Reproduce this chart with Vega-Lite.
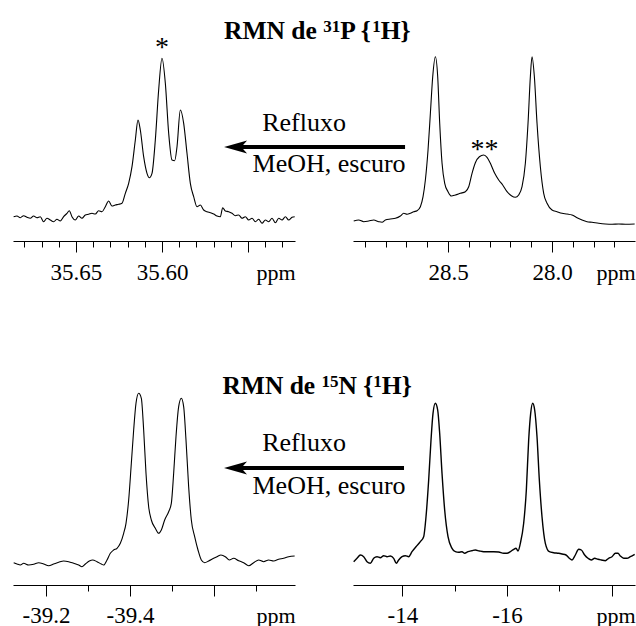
{
 "$schema": "https://vega.github.io/schema/vega-lite/v6.json",
 "background": "white",
 "padding": {"left": 11, "top": 0, "right": 0, "bottom": 0},
 "datasets": {
  "tl": [
   {"x":35.68624,"v":24.3},{"x":35.68430,"v":25.0},{"x":35.68236,"v":23.3},{"x":35.68043,"v":25.3},{"x":35.67849,"v":23.7},{"x":35.67655,"v":22.7},{"x":35.67461,"v":25.0},{"x":35.67267,"v":23.3},{"x":35.67074,"v":24.3},{"x":35.66880,"v":19.3},{"x":35.66686,"v":22.7},{"x":35.66492,"v":21.0},{"x":35.66298,"v":19.3},{"x":35.66105,"v":21.7},{"x":35.65911,"v":20.0},{"x":35.65717,"v":24.3},{"x":35.65523,"v":27.7},{"x":35.65388,"v":30.3},{"x":35.65233,"v":24.3},{"x":35.65039,"v":21.0},{"x":35.64845,"v":25.0},{"x":35.64651,"v":22.7},{"x":35.64457,"v":26.0},{"x":35.64264,"v":26.7},{"x":35.64070,"v":27.7},{"x":35.63876,"v":27.0},{"x":35.63682,"v":30.3},{"x":35.63488,"v":29.3},{"x":35.63295,"v":34.3},{"x":35.63101,"v":40.0},{"x":35.62907,"v":35.0},{"x":35.62713,"v":36.0},{"x":35.62519,"v":36.7},{"x":35.62326,"v":37.7},{"x":35.62132,"v":47.7},{"x":35.61938,"v":57.7},{"x":35.61744,"v":74.3},{"x":35.61550,"v":101.0},{"x":35.61395,"v":121.0},{"x":35.61260,"v":111.0},{"x":35.61066,"v":84.3},{"x":35.60872,"v":67.7},{"x":35.60736,"v":63.3},{"x":35.60581,"v":67.7},{"x":35.60388,"v":101.0},{"x":35.60194,"v":151.0},{"x":35.60000,"v":182.7},{"x":35.59806,"v":157.7},{"x":35.59612,"v":107.7},{"x":35.59419,"v":81.0},{"x":35.59264,"v":80.3},{"x":35.59128,"v":94.3},{"x":35.58934,"v":131.0},{"x":35.58740,"v":117.7},{"x":35.58547,"v":87.7},{"x":35.58353,"v":57.7},{"x":35.58159,"v":44.3},{"x":35.57965,"v":34.3},{"x":35.57771,"v":36.0},{"x":35.57578,"v":31.0},{"x":35.57384,"v":29.3},{"x":35.57190,"v":28.3},{"x":35.56996,"v":27.0},{"x":35.56802,"v":25.0},{"x":35.56609,"v":24.3},{"x":35.56473,"v":33.3},{"x":35.56318,"v":30.0},{"x":35.56124,"v":29.3},{"x":35.55930,"v":27.7},{"x":35.55736,"v":25.3},{"x":35.55543,"v":26.0},{"x":35.55349,"v":22.7},{"x":35.55155,"v":24.3},{"x":35.54961,"v":21.0},{"x":35.54767,"v":22.7},{"x":35.54574,"v":19.3},{"x":35.54380,"v":21.7},{"x":35.54186,"v":17.7},{"x":35.53992,"v":21.0},{"x":35.53798,"v":19.3},{"x":35.53605,"v":22.7},{"x":35.53411,"v":18.3},{"x":35.53217,"v":22.7},{"x":35.53023,"v":21.0},{"x":35.52829,"v":24.3},{"x":35.52636,"v":21.0},{"x":35.52442,"v":23.7},{"x":35.52287,"v":24.3}
  ],
  "tr": [
   {"x":28.9535,"v":20.0},{"x":28.9295,"v":21.0},{"x":28.9054,"v":19.3},{"x":28.8814,"v":20.0},{"x":28.8574,"v":21.0},{"x":28.8333,"v":19.3},{"x":28.8173,"v":18.7},{"x":28.8013,"v":21.0},{"x":28.7772,"v":22.0},{"x":28.7532,"v":22.7},{"x":28.7292,"v":25.0},{"x":28.7131,"v":27.7},{"x":28.6971,"v":26.7},{"x":28.6811,"v":27.7},{"x":28.6651,"v":29.3},{"x":28.6490,"v":30.3},{"x":28.6330,"v":34.3},{"x":28.6202,"v":44.3},{"x":28.6090,"v":61.0},{"x":28.5962,"v":91.0},{"x":28.5849,"v":127.7},{"x":28.5737,"v":164.3},{"x":28.5609,"v":184.3},{"x":28.5497,"v":164.3},{"x":28.5401,"v":117.7},{"x":28.5288,"v":77.7},{"x":28.5160,"v":57.7},{"x":28.5000,"v":49.3},{"x":28.4840,"v":45.0},{"x":28.4647,"v":46.0},{"x":28.4407,"v":47.7},{"x":28.4167,"v":49.3},{"x":28.4006,"v":54.3},{"x":28.3846,"v":67.7},{"x":28.3686,"v":78.3},{"x":28.3494,"v":84.3},{"x":28.3285,"v":86.0},{"x":28.3125,"v":83.7},{"x":28.2965,"v":77.7},{"x":28.2756,"v":67.7},{"x":28.2564,"v":61.0},{"x":28.2372,"v":56.0},{"x":28.2163,"v":49.3},{"x":28.1955,"v":45.3},{"x":28.1763,"v":43.7},{"x":28.1603,"v":46.0},{"x":28.1442,"v":54.3},{"x":28.1282,"v":77.7},{"x":28.1154,"v":117.7},{"x":28.1042,"v":164.3},{"x":28.0962,"v":184.3},{"x":28.0849,"v":164.3},{"x":28.0721,"v":117.7},{"x":28.0561,"v":74.3},{"x":28.0401,"v":47.7},{"x":28.0240,"v":37.7},{"x":28.0000,"v":31.0},{"x":27.9760,"v":29.3},{"x":27.9519,"v":27.7},{"x":27.9279,"v":27.0},{"x":27.9038,"v":26.0},{"x":27.8798,"v":23.3},{"x":27.8558,"v":21.0},{"x":27.8317,"v":19.3},{"x":27.8077,"v":18.7},{"x":27.7756,"v":17.7},{"x":27.7436,"v":17.0},{"x":27.7115,"v":16.7},{"x":27.6795,"v":17.0},{"x":27.6474,"v":16.7},{"x":27.6026,"v":17.0}
  ],
  "bl": [
   {"x":-39.12302,"v":22.3},{"x":-39.13095,"v":21.0},{"x":-39.13889,"v":20.0},{"x":-39.14683,"v":21.7},{"x":-39.15873,"v":20.0},{"x":-39.17064,"v":20.7},{"x":-39.18254,"v":22.3},{"x":-39.19444,"v":21.0},{"x":-39.20635,"v":19.3},{"x":-39.21825,"v":21.0},{"x":-39.23016,"v":22.7},{"x":-39.24206,"v":24.0},{"x":-39.25397,"v":23.3},{"x":-39.26587,"v":21.7},{"x":-39.27778,"v":20.0},{"x":-39.28571,"v":18.3},{"x":-39.29365,"v":21.0},{"x":-39.30317,"v":24.0},{"x":-39.31111,"v":25.0},{"x":-39.32143,"v":23.3},{"x":-39.33175,"v":21.0},{"x":-39.33730,"v":20.0},{"x":-39.34524,"v":25.0},{"x":-39.35317,"v":31.7},{"x":-39.36111,"v":35.0},{"x":-39.36905,"v":36.7},{"x":-39.37698,"v":41.7},{"x":-39.38492,"v":51.7},{"x":-39.39048,"v":61.7},{"x":-39.39683,"v":85.0},{"x":-39.40317,"v":121.7},{"x":-39.40873,"v":155.0},{"x":-39.41429,"v":181.7},{"x":-39.42063,"v":191.7},{"x":-39.42698,"v":186.7},{"x":-39.43254,"v":155.0},{"x":-39.43810,"v":111.7},{"x":-39.44444,"v":78.3},{"x":-39.45079,"v":65.0},{"x":-39.46032,"v":56.7},{"x":-39.46825,"v":51.7},{"x":-39.47460,"v":55.0},{"x":-39.48254,"v":65.0},{"x":-39.49206,"v":73.3},{"x":-39.49841,"v":81.7},{"x":-39.50397,"v":111.7},{"x":-39.50952,"v":148.3},{"x":-39.51587,"v":178.3},{"x":-39.52222,"v":186.7},{"x":-39.52778,"v":178.3},{"x":-39.53333,"v":145.0},{"x":-39.53968,"v":98.3},{"x":-39.54603,"v":65.0},{"x":-39.55397,"v":48.3},{"x":-39.56190,"v":35.0},{"x":-39.56984,"v":25.0},{"x":-39.57778,"v":22.3},{"x":-39.58730,"v":24.0},{"x":-39.59921,"v":26.7},{"x":-39.60714,"v":28.3},{"x":-39.61667,"v":30.0},{"x":-39.62698,"v":28.3},{"x":-39.63651,"v":25.0},{"x":-39.64683,"v":26.7},{"x":-39.65873,"v":24.3},{"x":-39.67064,"v":22.3},{"x":-39.68254,"v":19.3},{"x":-39.69444,"v":22.3},{"x":-39.70635,"v":25.0},{"x":-39.71825,"v":23.3},{"x":-39.73016,"v":25.0},{"x":-39.74206,"v":24.0},{"x":-39.75397,"v":25.7},{"x":-39.76587,"v":26.7},{"x":-39.77778,"v":28.3},{"x":-39.79206,"v":29.0}
  ],
  "br": [
   {"x":-13.07100,"v":23.3},{"x":-13.13467,"v":26.7},{"x":-13.19835,"v":30.0},{"x":-13.26202,"v":28.3},{"x":-13.32569,"v":23.3},{"x":-13.38937,"v":21.7},{"x":-13.45304,"v":26.7},{"x":-13.51672,"v":28.3},{"x":-13.58039,"v":27.3},{"x":-13.64406,"v":29.3},{"x":-13.70774,"v":28.3},{"x":-13.77141,"v":29.0},{"x":-13.83509,"v":26.7},{"x":-13.88602,"v":21.7},{"x":-13.93060,"v":25.0},{"x":-13.99427,"v":28.3},{"x":-14.05794,"v":29.3},{"x":-14.12162,"v":28.3},{"x":-14.18529,"v":33.3},{"x":-14.26170,"v":38.3},{"x":-14.34448,"v":43.3},{"x":-14.40815,"v":48.3},{"x":-14.45272,"v":68.3},{"x":-14.50366,"v":105.0},{"x":-14.54823,"v":145.0},{"x":-14.58644,"v":171.7},{"x":-14.63101,"v":181.7},{"x":-14.67558,"v":175.0},{"x":-14.71379,"v":151.7},{"x":-14.75836,"v":111.7},{"x":-14.80930,"v":75.0},{"x":-14.87297,"v":48.3},{"x":-14.94938,"v":36.7},{"x":-15.01305,"v":33.3},{"x":-15.07673,"v":32.7},{"x":-15.14040,"v":33.3},{"x":-15.19134,"v":31.7},{"x":-15.25502,"v":33.3},{"x":-15.33142,"v":34.3},{"x":-15.39510,"v":35.0},{"x":-15.47151,"v":34.0},{"x":-15.55428,"v":33.3},{"x":-15.64979,"v":33.3},{"x":-15.74531,"v":33.3},{"x":-15.84082,"v":33.0},{"x":-15.93633,"v":31.7},{"x":-16.00000,"v":31.7},{"x":-16.06368,"v":33.3},{"x":-16.12735,"v":35.7},{"x":-16.17192,"v":36.7},{"x":-16.21013,"v":34.0},{"x":-16.25470,"v":41.7},{"x":-16.31837,"v":61.7},{"x":-16.36931,"v":95.0},{"x":-16.41388,"v":145.0},{"x":-16.45209,"v":171.7},{"x":-16.49029,"v":181.7},{"x":-16.52850,"v":175.0},{"x":-16.57307,"v":148.3},{"x":-16.61764,"v":105.0},{"x":-16.66858,"v":68.3},{"x":-16.73225,"v":41.7},{"x":-16.80866,"v":33.3},{"x":-16.89144,"v":32.3},{"x":-16.98695,"v":31.7},{"x":-17.05062,"v":31.0},{"x":-17.12703,"v":30.0},{"x":-17.19071,"v":26.7},{"x":-17.24164,"v":25.0},{"x":-17.30532,"v":30.0},{"x":-17.36899,"v":35.7},{"x":-17.41993,"v":35.0},{"x":-17.48361,"v":30.0},{"x":-17.54728,"v":26.7},{"x":-17.61095,"v":25.0},{"x":-17.67463,"v":26.7},{"x":-17.73830,"v":25.7},{"x":-17.80198,"v":25.0},{"x":-17.87838,"v":24.3},{"x":-17.94206,"v":26.7},{"x":-18.00573,"v":28.3},{"x":-18.06941,"v":31.7},{"x":-18.12034,"v":31.7},{"x":-18.16492,"v":29.0},{"x":-18.22859,"v":26.7},{"x":-18.29227,"v":26.7},{"x":-18.35594,"v":28.3},{"x":-18.43872,"v":30.7}
  ]
 },
 "columns": 2,
 "spacing": {"row": 79, "column": 58},
 "bounds": "flush",
 "concat": [
  {
   "width": 282, "height": 241,
   "data": {"name": "tl"},
   "resolve": {"axis": {"x": "independent"}},
   "layer": [
    {
     "mark": {"type": "line", "color": "black", "strokeWidth": 1.1, "interpolate": "monotone"},
     "encoding": {
      "x": {"field": "x", "type": "quantitative", "scale": {"domain": [35.5227, 35.6866], "reverse": true, "nice": false, "zero": false},
            "axis": {"orient": "bottom", "values": [35.55, 35.6, 35.65], "tickSize": 11, "labelPadding": 27, "labelBaseline": "alphabetic", "labelFlush": false, "labelOverlap": false, "labelBound": false, "labelExpr": "datum.value > 35.57 ? format(datum.value, '.2f') : ''", "title": "ppm", "titleX": 282, "titleY": 38, "titleAlign": "right", "titleBaseline": "alphabetic", "titleFontWeight": "normal"}},
      "y": {"field": "v", "type": "quantitative", "scale": {"domain": [0, 241], "nice": false, "zero": false}, "axis": null}
     }
    },
    {
     "mark": {"type": "line", "opacity": 0},
     "encoding": {
      "x": {"field": "x", "type": "quantitative", "scale": {"domain": [35.5227, 35.6866], "reverse": true, "nice": false, "zero": false},
            "axis": {"orient": "bottom", "values": [35.53, 35.54, 35.55, 35.56, 35.57, 35.58, 35.59, 35.6, 35.61, 35.62, 35.63, 35.64, 35.65, 35.66, 35.67, 35.68], "tickSize": 6, "labels": false, "domain": false, "title": null}},
      "y": {"field": "v", "type": "quantitative", "scale": {"domain": [0, 241], "nice": false, "zero": false}, "axis": null}
     }
    },
    {
     "data": {"values": [{"x": 35.6, "v": 185, "t": "*"}]},
     "mark": {"type": "text", "font": "Liberation Serif", "fontSize": 28, "color": "black", "align": "center", "baseline": "alphabetic"},
     "encoding": {
      "x": {"field": "x", "type": "quantitative", "scale": {"domain": [35.5227, 35.6866], "reverse": true, "nice": false, "zero": false}, "axis": null},
      "y": {"field": "v", "type": "quantitative", "scale": {"domain": [0, 241], "nice": false, "zero": false}, "axis": null},
      "text": {"field": "t"}
     }
    }
   ]
  },
  {
   "width": 282, "height": 241,
   "data": {"name": "tr"},
   "resolve": {"axis": {"x": "independent"}},
   "layer": [
    {
     "mark": {"type": "line", "color": "black", "strokeWidth": 1.1, "interpolate": "monotone"},
     "encoding": {
      "x": {"field": "x", "type": "quantitative", "scale": {"domain": [27.601, 28.957], "reverse": true, "nice": false, "zero": false},
            "axis": {"orient": "bottom", "values": [28.0, 28.5], "tickSize": 11, "labelPadding": 27, "labelBaseline": "alphabetic", "labelFlush": false, "labelOverlap": false, "labelBound": false, "labelExpr": "format(datum.value, '.1f')", "title": "ppm", "titleX": 282, "titleY": 38, "titleAlign": "right", "titleBaseline": "alphabetic", "titleFontWeight": "normal"}},
      "y": {"field": "v", "type": "quantitative", "scale": {"domain": [0, 241], "nice": false, "zero": false}, "axis": null}
     }
    },
    {
     "mark": {"type": "line", "opacity": 0},
     "encoding": {
      "x": {"field": "x", "type": "quantitative", "scale": {"domain": [27.601, 28.957], "reverse": true, "nice": false, "zero": false},
            "axis": {"orient": "bottom", "values": [27.7, 27.8, 27.9, 28.0, 28.1, 28.2, 28.3, 28.4, 28.5, 28.6, 28.7, 28.8, 28.9], "tickSize": 6, "labels": false, "domain": false, "title": null}},
      "y": {"field": "v", "type": "quantitative", "scale": {"domain": [0, 241], "nice": false, "zero": false}, "axis": null}
     }
    },
    {
     "data": {"values": [{"x": 28.3245, "v": 83, "t": "**"}]},
     "mark": {"type": "text", "font": "Liberation Serif", "fontSize": 28, "color": "black", "align": "center", "baseline": "alphabetic"},
     "encoding": {
      "x": {"field": "x", "type": "quantitative", "scale": {"domain": [27.601, 28.957], "reverse": true, "nice": false, "zero": false}, "axis": null},
      "y": {"field": "v", "type": "quantitative", "scale": {"domain": [0, 241], "nice": false, "zero": false}, "axis": null},
      "text": {"field": "t"}
     }
    },
    {
     "data": {"values": [{"x": 29.5769, "v": 202.5, "t": "RMN de"}, {"x": 29.0188, "v": 202.5, "t": "P {"}, {"x": 28.8240, "v": 202.5, "t": "H}"}]},
     "mark": {"type": "text", "font": "Liberation Serif", "fontSize": 25.5, "fontWeight": "bold", "color": "black", "align": "left", "baseline": "alphabetic"},
     "encoding": {
      "x": {"field": "x", "type": "quantitative", "scale": {"domain": [27.601, 28.957], "reverse": true, "nice": false, "zero": false}, "axis": null},
      "y": {"field": "v", "type": "quantitative", "scale": {"domain": [0, 241], "nice": false, "zero": false}, "axis": null},
      "text": {"field": "t"}
     }
    },
    {
     "data": {"values": [{"x": 29.1005, "v": 209.5, "t": "31"}, {"x": 28.8649, "v": 209.5, "t": "1"}]},
     "mark": {"type": "text", "font": "Liberation Serif", "fontSize": 17, "fontWeight": "bold", "color": "black", "align": "left", "baseline": "alphabetic"},
     "encoding": {
      "x": {"field": "x", "type": "quantitative", "scale": {"domain": [27.601, 28.957], "reverse": true, "nice": false, "zero": false}, "axis": null},
      "y": {"field": "v", "type": "quantitative", "scale": {"domain": [0, 241], "nice": false, "zero": false}, "axis": null},
      "text": {"field": "t"}
     }
    },
    {
     "data": {"values": [{"x": 29.1923, "v": 110, "t": "Refluxo"}, {"x": 29.0721, "v": 69.5, "t": "MeOH, escuro"}]},
     "mark": {"type": "text", "font": "Liberation Serif", "fontSize": 26, "color": "black", "align": "center", "baseline": "alphabetic"},
     "encoding": {
      "x": {"field": "x", "type": "quantitative", "scale": {"domain": [27.601, 28.957], "reverse": true, "nice": false, "zero": false}, "axis": null},
      "y": {"field": "v", "type": "quantitative", "scale": {"domain": [0, 241], "nice": false, "zero": false}, "axis": null},
      "text": {"field": "t"}
     }
    },
    {
     "data": {"values": [{"x": 29.5096, "x2": 28.7067, "v": 94}]},
     "mark": {"type": "rule", "color": "black", "strokeWidth": 4},
     "encoding": {
      "x": {"field": "x", "type": "quantitative", "scale": {"domain": [27.601, 28.957], "reverse": true, "nice": false, "zero": false}, "axis": null},
      "x2": {"field": "x2"},
      "y": {"field": "v", "type": "quantitative", "scale": {"domain": [0, 241], "nice": false, "zero": false}, "axis": null}
     }
    },
    {
     "data": {"values": [{"x": 29.5216, "v": 94}]},
     "mark": {"type": "point", "shape": "M -1 0 L 1 -0.565 L 0.5 0 L 1 0.565 Z", "size": 529, "filled": true, "color": "black", "opacity": 1, "strokeWidth": 0},
     "encoding": {
      "x": {"field": "x", "type": "quantitative", "scale": {"domain": [27.601, 28.957], "reverse": true, "nice": false, "zero": false}, "axis": null},
      "y": {"field": "v", "type": "quantitative", "scale": {"domain": [0, 241], "nice": false, "zero": false}, "axis": null}
     }
    }
   ]
  },
  {
   "width": 282, "height": 265,
   "data": {"name": "bl"},
   "resolve": {"axis": {"x": "independent"}},
   "layer": [
    {
     "mark": {"type": "line", "color": "black", "strokeWidth": 1.1, "interpolate": "monotone"},
     "encoding": {
      "x": {"field": "x", "type": "quantitative", "scale": {"domain": [-39.7929, -39.1214], "reverse": true, "nice": false, "zero": false},
            "axis": {"orient": "bottom", "values": [-39.6, -39.4, -39.2], "tickSize": 11, "labelPadding": 26, "labelBaseline": "alphabetic", "labelFlush": false, "labelOverlap": false, "labelBound": false, "labelExpr": "datum.value > -39.5 ? '-' + format(-datum.value, '.1f') : ''", "title": "ppm", "titleX": 282, "titleY": 37, "titleAlign": "right", "titleBaseline": "alphabetic", "titleFontWeight": "normal"}},
      "y": {"field": "v", "type": "quantitative", "scale": {"domain": [0, 265], "nice": false, "zero": false}, "axis": null}
     }
    },
    {
     "mark": {"type": "line", "opacity": 0},
     "encoding": {
      "x": {"field": "x", "type": "quantitative", "scale": {"domain": [-39.7929, -39.1214], "reverse": true, "nice": false, "zero": false},
            "axis": {"orient": "bottom", "values": [-39.7, -39.5, -39.3], "tickSize": 6, "labels": false, "domain": false, "title": null}},
      "y": {"field": "v", "type": "quantitative", "scale": {"domain": [0, 265], "nice": false, "zero": false}, "axis": null}
     }
    }
   ]
  },
  {
   "width": 282, "height": 265,
   "data": {"name": "br"},
   "resolve": {"axis": {"x": "independent"}},
   "layer": [
    {
     "mark": {"type": "line", "color": "black", "strokeWidth": 1.4, "interpolate": "monotone"},
     "encoding": {
      "x": {"field": "x", "type": "quantitative", "scale": {"domain": [-18.445, -13.058], "reverse": true, "nice": false, "zero": false},
            "axis": {"orient": "bottom", "values": [-18, -16, -14], "tickSize": 11, "labelPadding": 26, "labelBaseline": "alphabetic", "labelFlush": false, "labelOverlap": false, "labelBound": false, "labelExpr": "datum.value > -17 ? '-' + format(-datum.value, 'd') : ''", "title": "ppm", "titleX": 282, "titleY": 37, "titleAlign": "right", "titleBaseline": "alphabetic", "titleFontWeight": "normal"}},
      "y": {"field": "v", "type": "quantitative", "scale": {"domain": [0, 265], "nice": false, "zero": false}, "axis": null}
     }
    },
    {
     "mark": {"type": "line", "opacity": 0},
     "encoding": {
      "x": {"field": "x", "type": "quantitative", "scale": {"domain": [-18.445, -13.058], "reverse": true, "nice": false, "zero": false},
            "axis": {"orient": "bottom", "values": [-17, -15], "tickSize": 6, "labels": false, "domain": false, "title": null}},
      "y": {"field": "v", "type": "quantitative", "scale": {"domain": [0, 265], "nice": false, "zero": false}, "axis": null}
     }
    },
    {
     "data": {"values": [{"x": -10.5635, "v": 191.5, "t": "RMN de"}, {"x": -12.7813, "v": 191.5, "t": "N {"}, {"x": -13.6084, "v": 191.5, "t": "H}"}]},
     "mark": {"type": "text", "font": "Liberation Serif", "fontSize": 25.5, "fontWeight": "bold", "color": "black", "align": "left", "baseline": "alphabetic"},
     "encoding": {
      "x": {"field": "x", "type": "quantitative", "scale": {"domain": [-18.445, -13.058], "reverse": true, "nice": false, "zero": false}, "axis": null},
      "y": {"field": "v", "type": "quantitative", "scale": {"domain": [0, 265], "nice": false, "zero": false}, "axis": null},
      "text": {"field": "t"}
     }
    },
    {
     "data": {"values": [{"x": -12.4565, "v": 198.5, "t": "15"}, {"x": -13.4460, "v": 198.5, "t": "1"}]},
     "mark": {"type": "text", "font": "Liberation Serif", "fontSize": 17, "fontWeight": "bold", "color": "black", "align": "left", "baseline": "alphabetic"},
     "encoding": {
      "x": {"field": "x", "type": "quantitative", "scale": {"domain": [-18.445, -13.058], "reverse": true, "nice": false, "zero": false}, "axis": null},
      "y": {"field": "v", "type": "quantitative", "scale": {"domain": [0, 265], "nice": false, "zero": false}, "axis": null},
      "text": {"field": "t"}
     }
    },
    {
     "data": {"values": [{"x": -12.1223, "v": 134.5, "t": "Refluxo"}, {"x": -12.6002, "v": 91.5, "t": "MeOH, escuro"}]},
     "mark": {"type": "text", "font": "Liberation Serif", "fontSize": 26, "color": "black", "align": "center", "baseline": "alphabetic"},
     "encoding": {
      "x": {"field": "x", "type": "quantitative", "scale": {"domain": [-18.445, -13.058], "reverse": true, "nice": false, "zero": false}, "axis": null},
      "y": {"field": "v", "type": "quantitative", "scale": {"domain": [0, 265], "nice": false, "zero": false}, "axis": null},
      "text": {"field": "t"}
     }
    },
    {
     "data": {"values": [{"x": -10.8615, "x2": -14.0325, "v": 117}]},
     "mark": {"type": "rule", "color": "black", "strokeWidth": 4},
     "encoding": {
      "x": {"field": "x", "type": "quantitative", "scale": {"domain": [-18.445, -13.058], "reverse": true, "nice": false, "zero": false}, "axis": null},
      "x2": {"field": "x2"},
      "y": {"field": "v", "type": "quantitative", "scale": {"domain": [0, 265], "nice": false, "zero": false}, "axis": null}
     }
    },
    {
     "data": {"values": [{"x": -10.8137, "v": 117}]},
     "mark": {"type": "point", "shape": "M -1 0 L 1 -0.565 L 0.5 0 L 1 0.565 Z", "size": 529, "filled": true, "color": "black", "opacity": 1, "strokeWidth": 0},
     "encoding": {
      "x": {"field": "x", "type": "quantitative", "scale": {"domain": [-18.445, -13.058], "reverse": true, "nice": false, "zero": false}, "axis": null},
      "y": {"field": "v", "type": "quantitative", "scale": {"domain": [0, 265], "nice": false, "zero": false}, "axis": null}
     }
    }
   ]
  }
 ],
 "config": {
  "view": {"stroke": null},
  "axis": {"domainColor": "black", "tickColor": "black", "labelColor": "black", "titleColor": "black", "labelFont": "Liberation Serif", "titleFont": "Liberation Serif", "labelFontSize": 23, "titleFontSize": 22, "grid": false, "domainWidth": 1, "tickWidth": 1}
 }
}
